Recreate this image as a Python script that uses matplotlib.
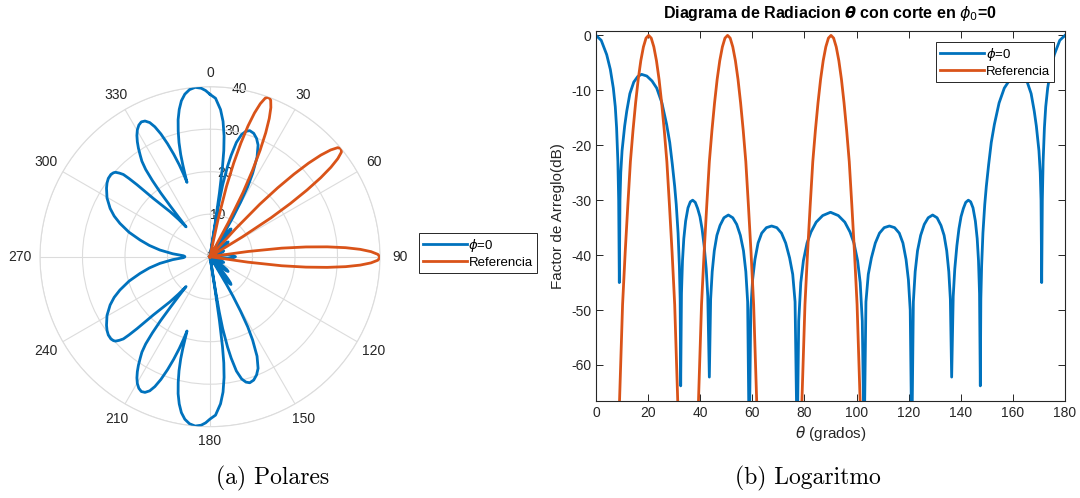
import numpy as np
import matplotlib
matplotlib.use('Agg')
import matplotlib.pyplot as plt

plt.rcParams['font.family'] = ['Liberation Sans', 'DejaVu Sans']
plt.rcParams['axes.unicode_minus'] = False

# Factor de arreglo, corte phi=0 (theta en grados, valor en dB)
blue_theta = [0, 2.0, 4.1, 5.5, 6.65, 7.4, 7.9, 8.4, 8.7, 8.95,
              9.2, 9.5, 10.0, 11.0, 11.8, 13.0, 14.5, 16.0, 17.5, 19.5, 21.5, 23.3, 25.3, 27.1, 28.3,
              29.3, 30.2, 30.8, 31.5, 32.0, 32.3, 32.5,
              32.8, 33.2, 33.7, 34.4, 35.3, 36.2, 37.1, 38.1, 39.0, 39.9, 40.7, 41.5, 42.3, 42.9, 43.5,
              44.0, 44.6, 45.4, 46.4, 47.6, 49.1, 50.8, 52.5, 54.0, 55.4, 56.6, 57.5, 58.2, 58.8,
              59.4, 60.1, 61.0, 62.2, 63.6, 65.4, 67.4, 69.4, 71.2, 72.8, 74.3, 75.5, 76.4, 77.2,
              77.8, 78.6, 79.6, 81.0, 82.5, 84.5, 87.0, 90.0, 93.0, 95.5, 97.5, 99.0, 100.4, 101.4, 102.2, 102.9,
              103.6, 104.5, 105.7, 107.2, 108.8, 110.6, 112.6, 114.6, 116.4, 117.8, 119.0, 119.9, 120.6, 121.2,
              121.8, 122.5, 123.4, 124.6, 126.0, 127.5, 129.2, 130.9, 132.4, 133.6, 134.6, 135.4, 136.0, 136.5,
              137.1, 137.7, 138.5, 139.3, 140.1, 141.0, 141.9, 142.9, 143.8, 144.7, 145.6, 146.3, 146.8, 147.2, 147.5,
              147.7, 148.0, 148.5, 149.2, 149.8, 150.7, 151.7, 152.9, 154.7, 156.7, 158.5, 160.5, 162.5, 164.0,
              165.5, 167.0, 168.2, 169.0, 170.0, 170.5, 170.8, 171.05,
              171.3, 171.6, 172.1, 172.6, 173.35, 174.5, 175.9, 178.0, 180.0]
blue_db = [0, -0.9, -3.5, -6.2, -9.6, -13, -16.8, -23, -30, -45,
           -30, -25, -21.0, -16.5, -13.8, -10.6, -8.5, -7.5, -7.1, -7.4, -8.3, -9.6, -12.3, -16.2, -19.5,
           -23.5, -27.5, -30.8, -36, -42, -48, -63.8,
           -47, -41, -37, -33.8, -31.4, -30.3, -30.0, -30.4, -31.5, -33.0, -35.2, -38.3, -42.5, -47.5, -62.2,
           -48, -43, -39.2, -36.4, -34.6, -33.2, -32.7, -33.2, -34.4, -36.4, -39.2, -43, -48.5, -75,
           -50, -44.5, -40.8, -37.8, -36.0, -35.0, -34.7, -35.0, -36.0, -37.8, -40.5, -43.5, -48.5, -75,
           -52, -45, -41, -37.8, -35.8, -34.0, -32.8, -32.2, -32.8, -34.0, -35.8, -37.8, -41, -45, -52, -75,
           -48.5, -43.5, -40.5, -37.8, -36.0, -35.0, -34.7, -35.0, -36.0, -37.8, -40.8, -44.5, -50, -75,
           -48.5, -43, -39.2, -36.4, -34.4, -33.2, -32.7, -33.2, -34.6, -36.4, -39.2, -43, -48, -62.2,
           -47.5, -42.5, -38.3, -35.2, -33.0, -31.5, -30.4, -30.0, -30.3, -31.4, -33.8, -37, -41, -47, -63.8,
           -48, -42, -36, -30.8, -27.5, -23.5, -19.5, -16.2, -12.3, -9.6, -8.3, -7.4, -7.1, -7.5,
           -8.5, -10.6, -13.8, -16.5, -21.0, -25, -30, -45,
           -30, -23, -16.8, -13, -9.6, -6.2, -3.5, -0.9, 0]

# Referencia: tres lobulos (NaN separa los lobulos)
ref_theta = [9.0, 10.2, 11.2, 12.2, 13.2, 14.2, 15.2, 16.2, 17.2, 18.2, 19.2, 20.2,
             21.2, 22.2, 23.2, 24.2, 25.2, 26.2, 27.2, 28.2, 29.2, 30.2, 31.4,
             np.nan,
             39.3, 40.5, 41.5, 42.5, 43.5, 44.5, 45.5, 46.5, 47.5, 48.5, 49.5, 50.5,
             51.5, 52.5, 53.5, 54.5, 55.5, 56.5, 57.5, 58.5, 59.5, 60.5, 61.7,
             np.nan,
             79.0, 80.2, 81.2, 82.2, 83.2, 84.2, 85.2, 86.2, 87.2, 88.2, 89.2, 90.2,
             91.2, 92.2, 93.2, 94.2, 95.2, 96.2, 97.2, 98.2, 99.2, 100.2, 101.4]
ref_db = [-67, -49, -39.5, -31, -23, -17.3, -12.3, -8.0, -4.6, -2.1, -0.5, 0,
          -0.5, -2.1, -4.6, -8.0, -12.3, -17.3, -23, -31, -39.5, -49, -67,
          np.nan,
          -67, -49, -39.5, -31, -23, -17.3, -12.3, -8.0, -4.6, -2.1, -0.5, 0,
          -0.5, -2.1, -4.6, -8.0, -12.3, -17.3, -23, -31, -39.5, -49, -67,
          np.nan,
          -67, -49, -39.5, -31, -23, -17.3, -12.3, -8.0, -4.6, -2.1, -0.5, 0,
          -0.5, -2.1, -4.6, -8.0, -12.3, -17.3, -23, -31, -39.5, -49, -67]

# Semiplano izquierdo del diagrama polar (angulo en grados, radio)
left_ang = [181.5, 183.0, 185.0, 187.0, 188.8, 190.4, 191.8, 193.1, 194.2, 195.2, 196.0, 196.5, 196.9, 197.2,
            197.7, 198.5, 199.5, 200.6, 201.8, 203.0, 204.2, 205.6, 207.0, 208.4, 209.8, 211.1, 212.3, 213.4,
            214.5, 215.5, 216.4, 217.1, 217.7, 218.1, 218.4, 218.7,
            220.1, 221.6, 223.0, 224.2, 225.4, 226.0, 226.5, 227.3, 228.2, 229.0, 230.3, 232.4, 234.4, 236.5,
            240.3, 244.2, 247.0, 249.7, 253.2, 256.6, 259.5, 262.4, 265.5, 267.9, 269.0, 270.0,
            271.0, 272.1, 274.5, 277.6, 280.5, 283.4, 286.8, 290.3, 293.0, 295.8, 299.7, 303.5, 305.6, 307.6,
            309.7, 311.0, 311.8, 312.7, 313.5, 314.0, 314.6, 315.8, 317.0, 318.4, 319.9, 321.3,
            321.6, 321.9, 322.3, 322.9, 323.6, 324.5, 325.5, 326.6, 327.7, 328.9, 330.2, 331.6, 333.0, 334.4,
            335.8, 337.0, 338.2, 339.4, 340.5, 341.5, 342.3, 342.8,
            343.1, 343.5, 344.0, 344.8, 345.8, 346.9, 348.2, 349.6, 351.2, 353.0, 355.0, 357.0, 358.5, 360.0]
left_r = [39.1, 39.7, 40.0, 39.6, 38.7, 37.3, 35.4, 33.1, 30.5, 27.8, 25.0, 22.5, 20.1, 18.3,
          20.2, 22.8, 25.6, 28.4, 31.1, 33.2, 34.6, 35.4, 35.6, 35.2, 34.4, 33.3, 32.0, 30.6,
          29.0, 27.6, 25.5, 22.5, 19.0, 15.0, 12.0, 9.0,
          11.5, 14.2, 16.5, 19.1, 24.1, 26.5, 28.1, 29.0, 29.8, 30.1, 30.3, 30.2, 29.8, 29.2,
          27.9, 26.1, 24.5, 22.6, 19.9, 16.9, 14.5, 11.9, 8.8, 6.3, 6.0, 5.9,
          6.0, 6.3, 8.8, 11.9, 14.5, 16.9, 19.9, 22.6, 24.5, 26.1, 27.9, 29.2, 29.8, 30.2,
          30.3, 30.1, 29.8, 29.0, 28.1, 26.5, 24.1, 19.1, 16.5, 14.2, 11.5, 9.0,
          12.0, 15.0, 19.0, 22.5, 25.5, 27.6, 29.0, 30.6, 32.0, 33.3, 34.4, 35.2, 35.6, 35.4,
          34.6, 33.2, 31.1, 28.4, 25.6, 22.8, 20.2, 18.3,
          20.1, 22.5, 25.0, 27.8, 30.5, 33.1, 35.4, 37.3, 38.7, 39.6, 40.0, 39.7, 39.1, 38.2]

BLUE = '#0072BD'
ORANGE = '#D95319'
DARK = '#262626'
GRID = '#dcdcdc'

W, H = 1080, 498
fig = plt.figure(figsize=(W / 100, H / 100), dpi=100)

# ---------------- polar ----------------
cx, cy, R = 210, 256.7, 170
axp = fig.add_axes([(cx - R) / W, (H - cy - R) / H, 2 * R / W, 2 * R / H], projection='polar')
axp.set_theta_zero_location('N')
axp.set_theta_direction(-1)

blue_r_right = np.clip(np.array(blue_db) + 38.2, 0, None)
pol_ang = np.deg2rad(np.concatenate([blue_theta, left_ang]))
pol_r = np.concatenate([blue_r_right, left_r])
ref_r = np.clip(np.array(ref_db) + 40, 0, None)

axp.plot(pol_ang, pol_r, color=BLUE, lw=2, zorder=3, label=r'$\phi$=0')
axp.plot(np.deg2rad(ref_theta), ref_r, color=ORANGE, lw=2, zorder=3, label='Referencia')
axp.set_rlim(0, 40)
axp.set_rticks([0, 10, 20, 30, 40])
axp.set_yticklabels([])
axp.set_thetagrids(np.arange(0, 360, 30), labels=[])
axp.grid(True, color=GRID, lw=0.8)
axp.spines['polar'].set_color(GRID)
axp.spines['polar'].set_linewidth(0.8)
axp.tick_params(length=0)

for r in [0, 10, 20, 30, 40]:
    axp.text(np.deg2rad(10) if r else 0, r, str(r), ha='center', va='center',
             fontsize=10, color=DARK, zorder=1)
for a in range(0, 360, 30):
    rad = 184 + 6 * abs(np.sin(np.deg2rad(a)))
    axp.text(np.deg2rad(a), 40 * rad / R, str(a), ha='center', va='center',
             fontsize=10, color=DARK, clip_on=False)

leg1 = axp.legend(loc='upper left', bbox_to_anchor=(419 / W, 1 - 233 / H),
                  bbox_transform=fig.transFigure, borderaxespad=0, fontsize=9.5,
                  handlelength=3.3, handletextpad=0.15, borderpad=0.3, labelspacing=0.2,
                  fancybox=False, framealpha=1)
leg1.get_frame().set_edgecolor(DARK)
leg1.get_frame().set_linewidth(0.7)

# ---------------- logaritmo ----------------
x0, x1, y0, y1 = 596, 1065, 30.7, 400.7
ax = fig.add_axes([x0 / W, (H - y1) / H, (x1 - x0) / W, (y1 - y0) / H])
ax.plot(blue_theta, blue_db, color=BLUE, lw=2, label=r'$\phi$=0')
ax.plot(ref_theta, ref_db, color=ORANGE, lw=2, label='Referencia')
ax.set_xlim(0, 180)
ax.set_ylim(-66.5, 0.85)
ax.set_xticks(np.arange(0, 181, 20))
ax.set_yticks(np.arange(-60, 1, 10))
ax.tick_params(direction='in', top=True, right=True, length=5, width=0.7,
               color=DARK, labelcolor=DARK, labelsize=10)
for s in ax.spines.values():
    s.set_color(DARK)
    s.set_linewidth(0.8)
ax.set_xlabel(r'$\theta$ (grados)', fontsize=11, color=DARK, labelpad=3)
ax.set_ylabel('Factor de Arreglo(dB)', fontsize=11, color=DARK, labelpad=4)
ax.set_title(r'Diagrama de Radiacion $\boldsymbol{\theta}$ con corte en $\boldsymbol{\phi_0}$=0',
             fontsize=11.5, fontweight='bold', pad=9)

leg2 = ax.legend(loc='upper right', bbox_to_anchor=(1054 / W, 1 - 42 / H),
                 bbox_transform=fig.transFigure, borderaxespad=0, fontsize=9.5,
                 handlelength=3.3, handletextpad=0.15, borderpad=0.3, labelspacing=0.2,
                 fancybox=False, framealpha=1)
leg2.get_frame().set_edgecolor(DARK)
leg2.get_frame().set_linewidth(0.7)

# ---------------- subtitulos ----------------
fig.text(273 / W, 1 - 478 / H, '(a) Polares', family='cmr10', fontsize=17, ha='center', va='center')
fig.text(808 / W, 1 - 478 / H, '(b) Logaritmo', family='cmr10', fontsize=17, ha='center', va='center')

fig.savefig('out.png', dpi=100)
